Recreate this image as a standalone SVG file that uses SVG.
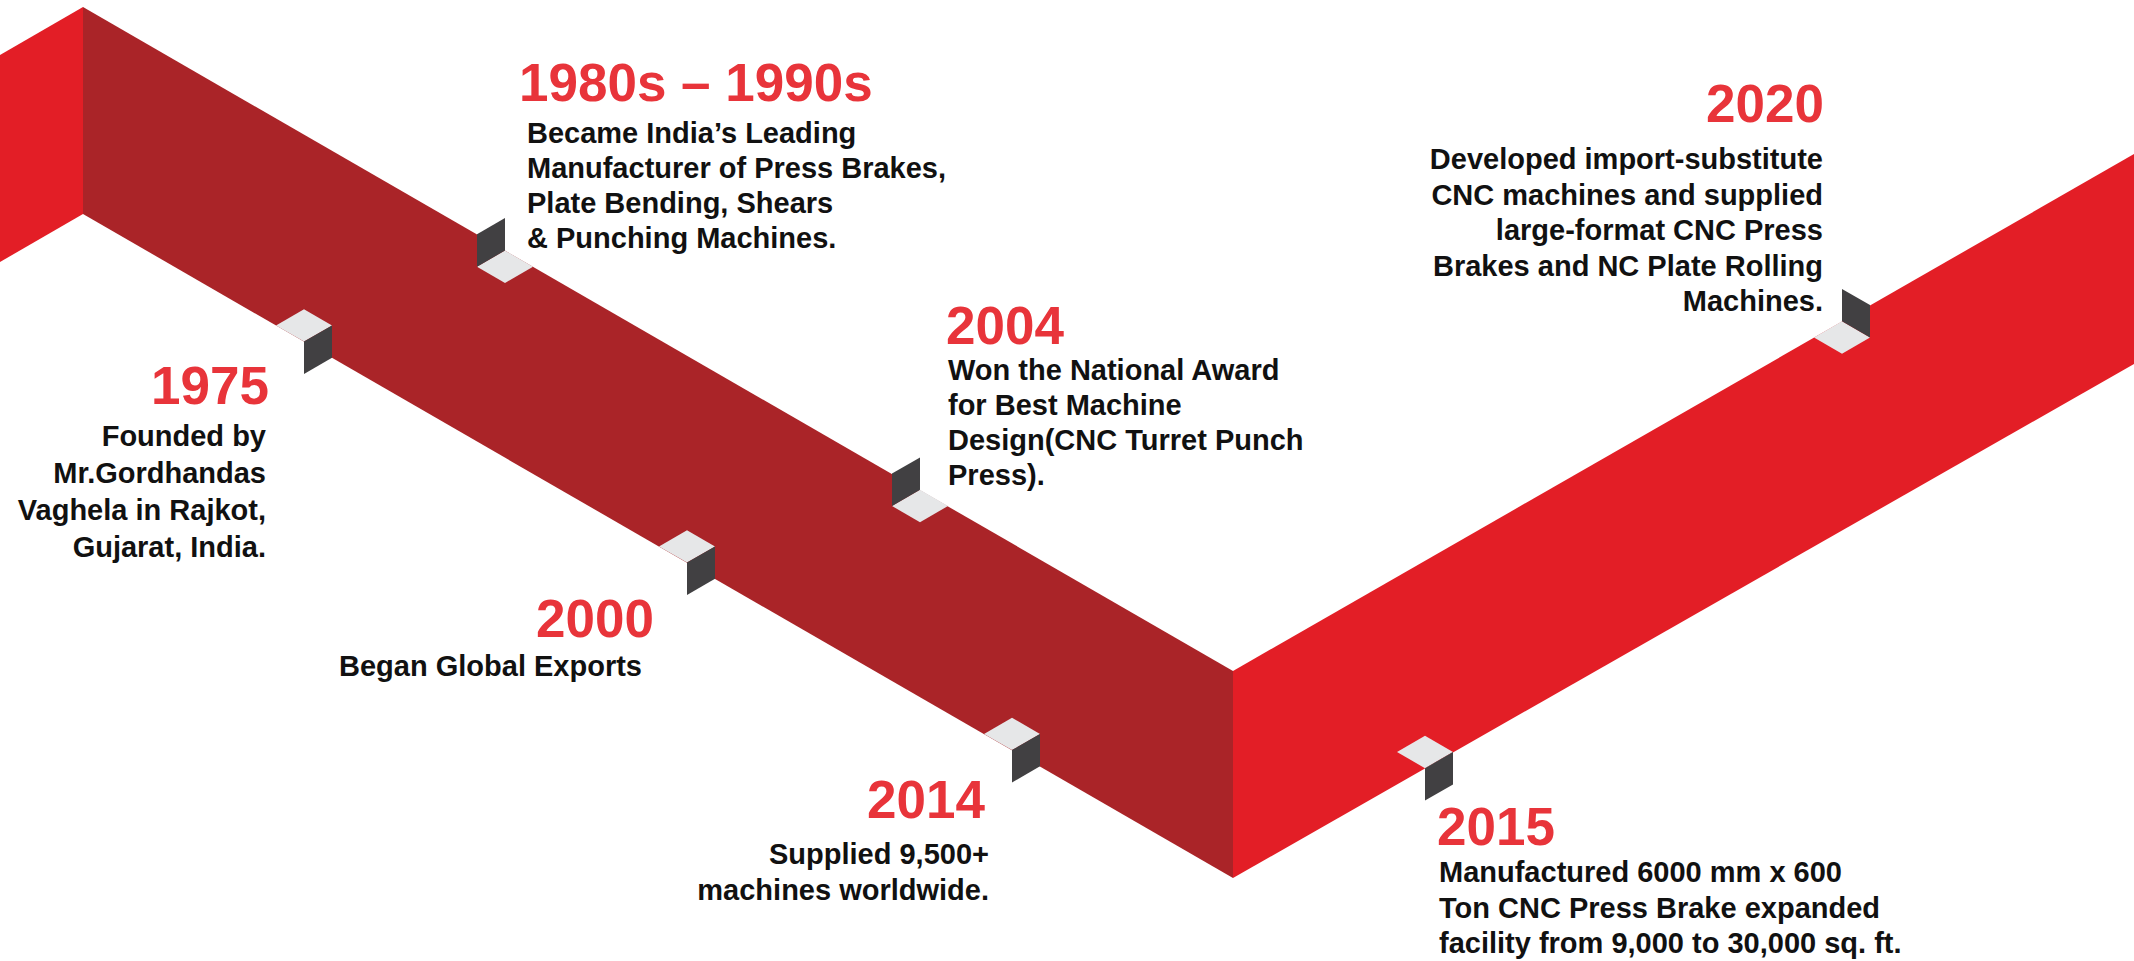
<svg xmlns="http://www.w3.org/2000/svg" width="2134" height="961" viewBox="0 0 2134 961">
<style>
.year{font-family:"Liberation Sans",Arial,sans-serif;font-weight:bold;font-size:53px;fill:#E8343A}
.body{font-family:"Liberation Sans",Arial,sans-serif;font-weight:bold;font-size:29px;fill:#111111}
.end{text-anchor:end}
.top{fill:#E6E7E8}
.side{fill:#414042}
.bright{fill:#E31E26}
.dark{fill:#AA2428}
</style>
<rect width="2134" height="961" fill="#FFFFFF"/>
<g id="timeline-band">
<polygon class="bright" points="0,55 83,7 83,214 0,262"/>
<polygon class="dark" points="83,7 1233,671 1233,878 83,214"/>
<polygon class="bright" points="1233,671 2134,154 2134,364 1233,878"/>
</g>
<g id="m1975">
<polygon class="top" points="276,325.4 304,309.2 332,325.4 304,341.6"/>
<polygon class="side" points="304,341.6 332,325.4 332,357.8 304,374"/>
<text class="year end" x="269" y="404">1975</text>
<text class="body end" x="266" y="446">Founded by</text>
<text class="body end" x="266" y="483">Mr.Gordhandas</text>
<text class="body end" x="266" y="520">Vaghela in Rajkot,</text>
<text class="body end" x="266" y="557">Gujarat, India.</text>
</g>
<g id="m1980s">
<polygon class="top" points="477,266.7 505,250.5 533,266.7 505,282.9"/>
<polygon class="side" points="477,266.7 505,250.5 505,218.1 477,234.3"/>
<text class="year" x="519" y="101">1980s – 1990s</text>
<text class="body" x="527" y="143">Became India’s Leading</text>
<text class="body" x="527" y="178">Manufacturer of Press Brakes,</text>
<text class="body" x="527" y="213">Plate Bending, Shears</text>
<text class="body" x="527" y="248">&amp; Punching Machines.</text>
</g>
<g id="m2000">
<polygon class="top" points="659,546.4 687,530.2 715,546.4 687,562.6"/>
<polygon class="side" points="687,562.6 715,546.4 715,578.8 687,595"/>
<text class="year end" x="654" y="637">2000</text>
<text class="body end" x="642" y="676">Began Global Exports</text>
</g>
<g id="m2004">
<polygon class="top" points="892,506 920,489.8 948,506 920,522.2"/>
<polygon class="side" points="892,506 920,489.8 920,457.4 892,473.6"/>
<text class="year" x="946" y="344">2004</text>
<text class="body" x="948" y="380">Won the National Award</text>
<text class="body" x="948" y="415">for Best Machine</text>
<text class="body" x="948" y="450">Design(CNC Turret Punch</text>
<text class="body" x="948" y="485">Press).</text>
</g>
<g id="m2014">
<polygon class="top" points="984,733.9 1012,717.7 1040,733.9 1012,750.1"/>
<polygon class="side" points="1012,750.1 1040,733.9 1040,766.3 1012,782.5"/>
<text class="year end" x="985" y="818">2014</text>
<text class="body end" x="989" y="864">Supplied 9,500+</text>
<text class="body end" x="989" y="900">machines worldwide.</text>
</g>
<g id="m2015">
<polygon class="top" points="1397,752 1425,735.8 1453,752 1425,768.2"/>
<polygon class="side" points="1425,768.2 1453,752 1453,784.4 1425,800.6"/>
<text class="year" x="1437" y="845">2015</text>
<text class="body" x="1439" y="882">Manufactured 6000 mm x 600</text>
<text class="body" x="1439" y="918">Ton CNC Press Brake expanded</text>
<text class="body" x="1439" y="953">facility from 9,000 to 30,000 sq. ft.</text>
</g>
<g id="m2020">
<polygon class="top" points="1814,337.5 1842,321.3 1870,337.5 1842,353.7"/>
<polygon class="side" points="1842,321.3 1870,337.5 1870,305.1 1842,288.9"/>
<text class="year end" x="1824" y="122">2020</text>
<text class="body end" x="1823" y="169">Developed import-substitute</text>
<text class="body end" x="1823" y="204.5">CNC machines and supplied</text>
<text class="body end" x="1823" y="240">large-format CNC Press</text>
<text class="body end" x="1823" y="275.5">Brakes and NC Plate Rolling</text>
<text class="body end" x="1823" y="311">Machines.</text>
</g>
</svg>
